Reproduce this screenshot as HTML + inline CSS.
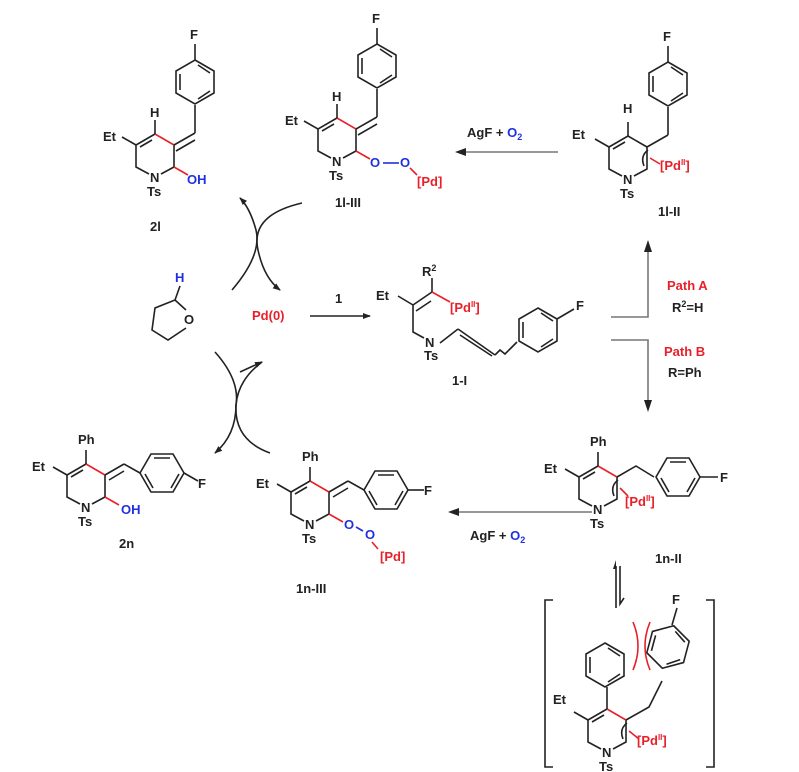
<!DOCTYPE html>
<html><head><meta charset="utf-8"><style>
html,body{margin:0;padding:0;background:#fff;}
svg{display:block;}
text{font-family:"Liberation Sans",sans-serif;font-size:13px;font-weight:bold;fill:#222;}
.r{fill:#e8202a;} .b{fill:#2030e0;}
.k{stroke:#222;stroke-width:1.6;fill:none;}
.rd{stroke:#e8202a;stroke-width:1.6;fill:none;}
.bl{stroke:#2030e0;stroke-width:1.6;fill:none;}
.g{stroke:#777;stroke-width:1.6;fill:none;}
</style></head><body>
<svg width="799" height="772" viewBox="0 0 799 772" xmlns="http://www.w3.org/2000/svg">
<defs>
<marker id="ah" markerWidth="8" markerHeight="8" refX="7" refY="4" orient="auto" markerUnits="userSpaceOnUse"><path d="M0,1 L8,4 L0,7 z" fill="#222"/></marker>
<g id="ring">
 <path class="k" d="M6,-4 L19,-11 L19,-33 M0,-44 L-19,-33 L-19,-11 L-6,-4 M-3,-38 L-15,-31"/>
 <path class="k" d="M-19,-33 L-33,-41"/>
</g>
<g id="bzV">
 <path class="k" d="M0,-22 L19,-11 L19,11 L0,22 L-19,11 L-19,-11 Z M3,-17 L15,-9 M15,9 L3,17 M-15,8 L-15,-8"/>
</g>
<g id="bzH">
 <path class="k" d="M-22,0 L-11,-19 L11,-19 L22,0 L11,19 L-11,19 Z M-8,-15 L8,-15 M17,1 L9,15 M-9,15 L-17,1"/>
</g>
</defs>

<!-- 2l -->
<g transform="translate(155,178)">
 <use href="#ring"/>
 <path class="rd" d="M19,-33 L0,-44"/>
 <path class="k" d="M0,-44 L0,-58 M19,-33 L40,-45 M21,-27 L40,-38 M40,-45 L40,-73 M40,-118 L40,-134"/>
 <path class="rd" d="M19,-11 L33,-3"/>
 <use href="#bzV" x="40" y="-96"/>
 <text x="-52" y="-37">Et</text><text x="-5" y="-61">H</text>
 <text x="-5" y="4">N</text><text x="-8" y="18">Ts</text>
 <text x="35" y="-139">F</text>
 <text class="b" x="32" y="6">OH</text>
 <text x="-5" y="53">2l</text>
</g>
<!-- 1l-III -->
<g transform="translate(337,162)">
 <use href="#ring"/>
 <path class="rd" d="M19,-33 L0,-44 M19,-11 L33,-3"/>
 <path class="k" d="M0,-44 L0,-58 M19,-33 L40,-45 M21,-27 L40,-38 M40,-45 L40,-73 M40,-118 L40,-134"/>
 <use href="#bzV" x="40" y="-96"/>
 <text x="-52" y="-37">Et</text><text x="-5" y="-61">H</text>
 <text x="-5" y="4">N</text><text x="-8" y="18">Ts</text>
 <text x="35" y="-139">F</text>
 <text class="b" x="33" y="5">O</text>
 <path class="bl" d="M46,1 L62,1"/>
 <text class="b" x="63" y="5">O</text>
 <path class="rd" d="M73,6 L80,13"/>
 <text class="r" x="80" y="24">[Pd]</text>
 <text x="-2" y="45">1l-III</text>
</g>
<!-- 1l-II -->
<g transform="translate(628,180)">
 <use href="#ring"/>
 <path class="k" d="M19,-33 L0,-44 M0,-44 L0,-58 M19,-33 L40,-45 M40,-45 L40,-73 M40,-118 L40,-134"/>
 <use href="#bzV" x="40" y="-96"/>
 <path class="k" d="M16,-14 Q12,-24 20,-30"/>
 <path class="rd" d="M22,-22 L32,-16"/>
 <text class="r" x="32" y="-10">[Pd<tspan font-size="8" dy="-5">II</tspan><tspan dy="5">]</tspan></text>
 <text x="-56" y="-41">Et</text><text x="-5" y="-67">H</text>
 <text x="-5" y="4">N</text><text x="-8" y="18">Ts</text>
 <text x="35" y="-139">F</text>
 <text x="30" y="36">1l-II</text>
</g>
<!-- AgF top arrow -->
<path class="g" d="M558,152 L462,152"/><path d="M455,152 L466,148 L466,156 z" fill="#222"/>
<text x="467" y="137">AgF + <tspan class="b">O</tspan><tspan class="b" font-size="9" dy="3">2</tspan></text>

<!-- 1-I -->
<g>
 <path class="k" d="M413,305 L432,292 M416,311 L431,301 M413,305 L413,332 L424,338 M413,305 L398,296 M432,292 L432,278 M440,343 L458,329 M458,329 L495,355 M460,335 L492,356 M495,355 L500,350 L505,354 L510,349 L517,342"/>
 <path class="rd" d="M432,292 L450,302"/>
 <use href="#bzV" x="538" y="330"/>
 <path class="k" d="M557,319 L574,309"/>
 <text x="376" y="300">Et</text>
 <text x="422" y="276">R<tspan font-size="9" dy="-5">2</tspan></text>
 <text class="r" x="450" y="312">[Pd<tspan font-size="8" dy="-5">II</tspan><tspan dy="5">]</tspan></text>
 <text x="425" y="347">N</text><text x="424" y="360">Ts</text>
 <text x="576" y="310">F</text>
 <text x="452" y="385">1-I</text>
</g>
<!-- Pd(0) and arrow -->
<text class="r" x="252" y="320">Pd(0)</text>
<path class="k" d="M310,316 L370,316" marker-end="url(#ah)"/>
<text x="335" y="303">1</text>
<!-- THF -->
<g>
 <text class="b" x="175" y="282">H</text>
 <path class="k" d="M180,286 L175,300 M175,300 L155,308 L152,330 L168,340 L186,328 M175,300 L186,310"/>
 <text x="184" y="324">O</text>
</g>
<!-- curved arrows top -->
<path class="k" d="M302,203 Q250,215 258,250 Q264,278 280,290" marker-end="url(#ah)"/>
<path class="k" d="M232,290 Q262,255 256,230 Q250,208 240,198" marker-end="url(#ah)"/>
<!-- curved arrows bottom -->
<path class="k" d="M215,352 Q240,380 236,405 Q234,440 270,453"/>
<path class="k" d="M262,362 Q238,380 236,405 Q236,435 215,453" marker-end="url(#ah)"/>
<path class="k" d="M240,372 L262,362" marker-end="url(#ah)"/>

<!-- Path A/B -->
<path class="g" d="M611,317 L648,317 L648,248"/><path d="M648,240 L644,252 L652,252 z" fill="#222"/>
<path class="g" d="M611,340 L648,340 L648,404"/><path d="M648,412 L644,400 L652,400 z" fill="#222"/>
<text class="r" x="667" y="290">Path A</text><text x="672" y="312">R<tspan font-size="9" dy="-5">2</tspan><tspan dy="5">=H</tspan></text>
<text class="r" x="664" y="356">Path B</text><text x="668" y="377">R=Ph</text>

<!-- 2n -->
<g transform="translate(86,508)">
 <use href="#ring"/>
 <path class="rd" d="M19,-33 L0,-44 M19,-11 L33,-3"/>
 <path class="k" d="M0,-44 L0,-58 M19,-33 L38,-44 M23,-28 L38,-37 M38,-44 L54,-35"/>
 <use href="#bzH" x="76" y="-35"/>
 <path class="k" d="M98,-35 L112,-27"/>
 <text x="-8" y="-64">Ph</text><text x="-54" y="-37">Et</text>
 <text x="-5" y="4">N</text><text x="-8" y="18">Ts</text>
 <text x="112" y="-20">F</text>
 <text class="b" x="35" y="6">OH</text>
 <text x="33" y="40">2n</text>
</g>
<!-- 1n-III -->
<g transform="translate(310,525)">
 <use href="#ring"/>
 <path class="rd" d="M19,-33 L0,-44 M19,-11 L33,-3"/>
 <path class="k" d="M0,-44 L0,-58 M19,-33 L38,-44 M23,-28 L38,-37 M38,-44 L54,-35"/>
 <use href="#bzH" x="76" y="-35"/>
 <path class="k" d="M98,-35 L114,-35"/>
 <text x="-8" y="-64">Ph</text><text x="-54" y="-37">Et</text>
 <text x="-5" y="4">N</text><text x="-8" y="18">Ts</text>
 <text x="114" y="-30">F</text>
 <text class="b" x="34" y="4">O</text>
 <path class="bl" d="M46,2 L53,6"/>
 <text class="b" x="55" y="14">O</text>
 <path class="rd" d="M62,17 L68,24"/>
 <text class="r" x="70" y="36">[Pd]</text>
 <text x="-14" y="68">1n-III</text>
</g>
<!-- bottom AgF arrow -->
<path class="g" d="M592,512 L456,512"/><path d="M448,512 L459,508 L459,516 z" fill="#222"/>
<text x="470" y="540">AgF + <tspan class="b">O</tspan><tspan class="b" font-size="9" dy="3">2</tspan></text>
<!-- 1n-II -->
<g transform="translate(598,510)">
 <use href="#ring"/>
 <path class="rd" d="M19,-33 L0,-44"/>
 <path class="k" d="M0,-44 L0,-58 M19,-33 L38,-44 L56,-33"/>
 <use href="#bzH" x="80" y="-33"/>
 <path class="k" d="M102,-33 L120,-33 M16,-14 Q12,-24 20,-30"/>
 <path class="rd" d="M22,-22 L30,-14"/>
 <text class="r" x="27" y="-4">[Pd<tspan font-size="8" dy="-5">II</tspan><tspan dy="5">]</tspan></text>
 <text x="-8" y="-64">Ph</text><text x="-54" y="-37">Et</text>
 <text x="-5" y="4">N</text><text x="-8" y="18">Ts</text>
 <text x="122" y="-28">F</text>
 <text x="57" y="53">1n-II</text>
</g>
<!-- equilibrium -->
<path class="k" d="M616,608 L616,566"/><path d="M616,560 L613,569 L616,569 z" fill="#222"/>
<path class="k" d="M620,566 L620,604 L624,598"/>
<!-- bracket -->
<path class="k" d="M553,600 L545,600 L545,767 L553,767 M706,600 L714,600 L714,767 L706,767"/>
<g transform="translate(607,753)">
 <use href="#ring"/>
 <path class="rd" d="M19,-33 L0,-44 M22,-22 L32,-14"/>
 <path class="k" d="M0,-44 L0,-66 M19,-33 L42,-46 L55,-72 M16,-14 Q12,-24 20,-30"/>
 <text x="-54" y="-49">Et</text>
 <text x="-5" y="4">N</text><text x="-8" y="18">Ts</text>
 <text class="r" x="30" y="-8">[Pd<tspan font-size="8" dy="-5">II</tspan><tspan dy="5">]</tspan></text>
</g>
<use href="#bzV" x="605" y="665"/>
<g transform="translate(668,647) rotate(15)">
 <use href="#bzV"/>
</g>
<path class="k" d="M672,625 L677,608"/>
<text x="672" y="604">F</text>
<path class="rd" d="M633,622 Q643,646 633,670 M650,622 Q640,646 650,670"/>
</svg>
</body></html>
